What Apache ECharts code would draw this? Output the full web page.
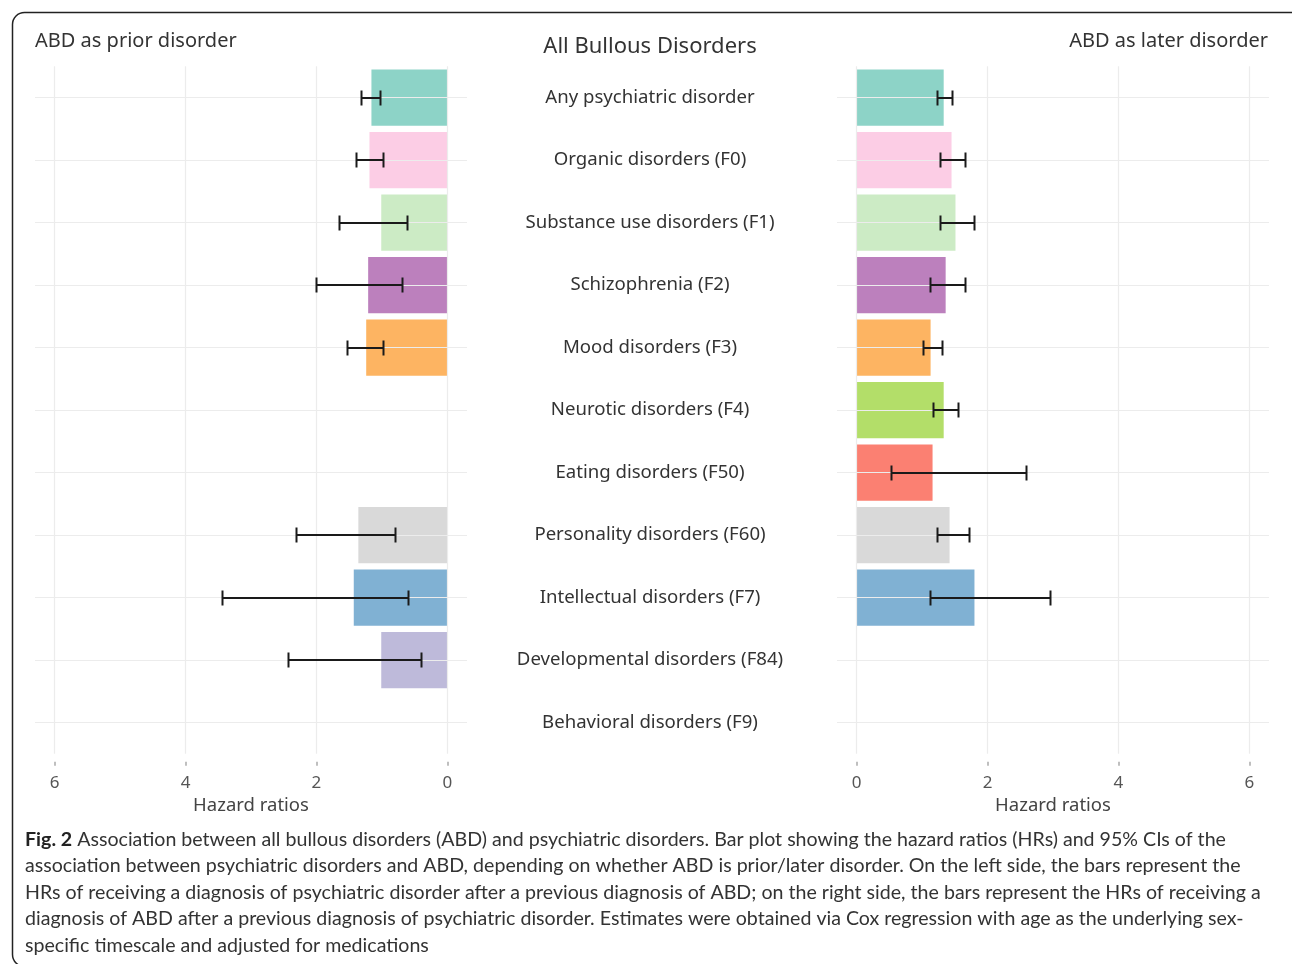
<!DOCTYPE html>
<html>
<head>
<meta charset="utf-8">
<script src="https://cdn.jsdelivr.net/npm/echarts@6/dist/echarts.min.js"></script>
<style>
html,body{margin:0;padding:0;background:#fff;}
#main{width:1292px;height:964px;}
</style>
</head>
<body>
<div id="main"></div>
<script>
const categories = ['Any psychiatric disorder','Organic disorders (F0)','Substance use disorders (F1)','Schizophrenia (F2)','Mood disorders (F3)','Neurotic disorders (F4)','Eating disorders (F50)','Personality disorders (F60)','Intellectual disorders (F7)','Developmental disorders (F84)','Behavioral disorders (F9)'];
const priorHR = [1.16, 1.19, 1.01, 1.21, 1.24, null, null, 1.36, 1.43, 1.01, null];
const priorLo = [1.03, 0.98, 0.62, 0.70, 0.98, null, null, 0.80, 0.60, 0.41, null];
const priorHi = [1.32, 1.39, 1.65, 2.01, 1.54, null, null, 2.32, 3.44, 2.43, null];
const laterHR = [1.33, 1.45, 1.51, 1.36, 1.13, 1.33, 1.16, 1.42, 1.80, null, null];
const laterLo = [1.23, 1.27, 1.27, 1.12, 1.01, 1.17, 0.52, 1.23, 1.12, null, null];
const laterHi = [1.46, 1.66, 1.80, 1.66, 1.30, 1.55, 2.59, 1.71, 2.95, null, null];
const tickValues = [0, 2, 4, 6];
const palette = ['#8DD3C7','#FCCDE5','#CCEBC5','#BC80BD','#FDB462','#B3DE69','#FB8072','#D9D9D9','#80B1D3','#BEBADA','#FFED6F'];

const FONT = 'Noto Sans';
const gridColor = '#ececec';

function errData(lo, hi) {
  const out = [];
  lo.forEach((v, i) => { if (v != null && hi[i] != null) out.push([v, hi[i], i]); });
  return out;
}
function renderErr(params, api) {
  const lo = api.coord([api.value(0), api.value(2)]);
  const hi = api.coord([api.value(1), api.value(2)]);
  const y = Math.round(lo[1]);
  const x1 = Math.round(lo[0]) + 0.5, x2 = Math.round(hi[0]) + 0.5;
  const h = 7.5;
  const st = { stroke: '#1a1a1a', lineWidth: 2, fill: null };
  return { type: 'group', children: [
    { type: 'line', shape: { x1: x1, y1: y, x2: x2, y2: y }, style: st },
    { type: 'line', shape: { x1: x1, y1: y - h, x2: x1, y2: y + h }, style: st },
    { type: 'line', shape: { x1: x2, y1: y - h, x2: x2, y2: y + h }, style: st }
  ]};
}
const vLines = { silent: true, symbol: 'none', label: { show: false }, lineStyle: { color: gridColor, width: 1.2, type: 'solid' }, animation: false,
  data: tickValues.map(v => ({ xAxis: v })) };
const hLines = { silent: true, symbol: 'none', label: { show: false }, lineStyle: { color: gridColor, width: 1.2, type: 'solid' }, animation: false,
  data: categories.map(c => ({ yAxis: c })) };

function xAx(gridIndex, inverse) {
  return {
    type: 'value', gridIndex, min: -0.3, max: 6.3, inverse, offset: 8,
    name: 'Hazard ratios', nameLocation: 'middle', nameGap: 33,
    nameTextStyle: { fontFamily: FONT, fontSize: 18.5, color: '#444' },
    axisLine: { show: false },
    axisTick: { show: true, length: 4, customValues: tickValues, lineStyle: { color: '#aaa', width: 1.5 } },
    axisLabel: { customValues: tickValues, fontFamily: FONT, fontSize: 17, color: '#555', margin: 13 },
    splitLine: { show: false }
  };
}
function yAx(gridIndex, showLabels) {
  return {
    type: 'category', gridIndex, data: categories, inverse: true,
    axisLine: { show: false }, axisTick: { show: false }, splitLine: { show: false },
    axisLabel: showLabels ? { show: true, align: 'center', margin: 187, padding: [4, 0, 0, 0], fontFamily: FONT, fontSize: 18.6, color: '#333' } : { show: false }
  };
}

const captionLines = [
  '{b|Fig. 2} Association between all bullous disorders (ABD) and psychiatric disorders. Bar plot showing the hazard ratios (HRs) and 95% CIs of the',
  'association between psychiatric disorders and ABD, depending on whether ABD is prior/later disorder. On the left side, the bars represent the',
  'HRs of receiving a diagnosis of psychiatric disorder after a previous diagnosis of ABD; on the right side, the bars represent the HRs of receiving a',
  'diagnosis of ABD after a previous diagnosis of psychiatric disorder. Estimates were obtained via Cox regression with age as the underlying sex-',
  'specific timescale and adjusted for medications'
];

const chart = echarts.init(document.getElementById('main'), null, { renderer: 'canvas' });
chart.setOption({
  animation: false,
  backgroundColor: '#fff',
  textStyle: { fontFamily: FONT },
  title: [
    { text: 'ABD as prior disorder', left: 35, top: 31, padding: 0, textStyle: { fontFamily: FONT, fontSize: 20, fontWeight: 'normal', color: '#333' } },
    { text: 'All Bullous Disorders', left: 650, top: 36, padding: 0, textAlign: 'center', textStyle: { fontFamily: FONT, fontSize: 22, fontWeight: 'normal', color: '#333' } },
    { text: 'ABD as later disorder', right: 24, top: 31, padding: 0, textStyle: { fontFamily: FONT, fontSize: 20, fontWeight: 'normal', color: '#333' } }
  ],
  grid: [
    { left: 35, width: 432, top: 66.25, height: 687.5 },
    { left: 837, width: 432, top: 66.25, height: 687.5 }
  ],
  xAxis: [xAx(0, true), xAx(1, false)],
  yAxis: [yAx(0, false), yAx(1, true)],
  series: [
    { type: 'bar', xAxisIndex: 0, yAxisIndex: 0, data: priorHR, barWidth: '90%',
      itemStyle: { color: p => palette[p.dataIndex] }, markLine: hLines, z: 2 },
    { type: 'line', xAxisIndex: 0, yAxisIndex: 0, data: [], markLine: vLines, z: 1 },
    { type: 'custom', xAxisIndex: 0, yAxisIndex: 0, data: errData(priorLo, priorHi), encode: { x: [0, 1], y: 2 }, renderItem: renderErr, z: 10 },
    { type: 'bar', xAxisIndex: 1, yAxisIndex: 1, data: laterHR, barWidth: '90%',
      itemStyle: { color: p => palette[p.dataIndex] }, markLine: hLines, z: 2 },
    { type: 'line', xAxisIndex: 1, yAxisIndex: 1, data: [], markLine: vLines, z: 1 },
    { type: 'custom', xAxisIndex: 1, yAxisIndex: 1, data: errData(laterLo, laterHi), encode: { x: [0, 1], y: 2 }, renderItem: renderErr, z: 10 }
  ],
  graphic: [
    { type: 'rect', left: 10, top: 10, shape: { width: 1300, height: 954, r: 12 }, style: { fill: null, stroke: '#222', lineWidth: 1.5 }, silent: true, z: 100 },
    { type: 'text', left: 25, top: 826, silent: true, style: {
        text: captionLines.join('\n'), font: '19.6px Lato', fill: '#333', lineHeight: 26.5,
        rich: { b: { fontFamily: 'Lato', fontSize: 19.6, fontWeight: 'bold', fill: '#222', lineHeight: 26.5 } }
      } }
  ]
});
</script>
</body>
</html>
